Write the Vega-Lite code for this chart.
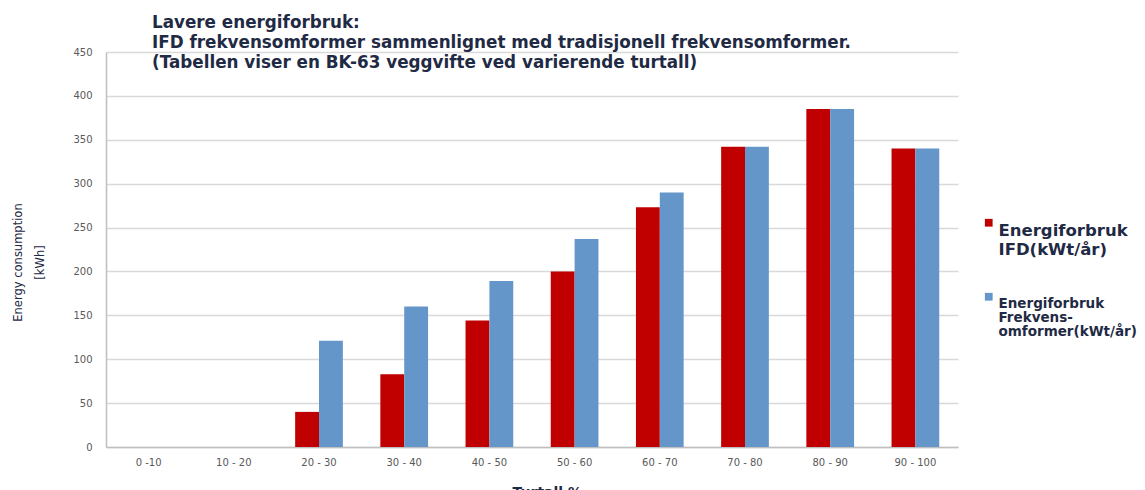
{
  "$schema": "https://vega.github.io/schema/vega-lite/v6.json",
  "width": 852,
  "height": 395,
  "autosize": {"type": "none"},
  "padding": {"left": 106, "top": 52, "right": 187, "bottom": 43},
  "background": "white",
  "config": {"view": {"stroke": null}},
  "title": {
    "text": ["Lavere energiforbruk:", " IFD frekvensomformer sammenlignet med tradisjonell frekvensomformer.", "(Tabellen viser en BK-63 veggvifte ved varierende turtall)"],
    "anchor": "start",
    "frame": "group",
    "dx": 46,
    "offset": -25,
    "font": "DejaVu Sans",
    "fontSize": 16.8,
    "fontWeight": "bold",
    "color": "#1F2A44",
    "lineHeight": 20
  },
  "data": {
    "values": [
      {"turtall": "20 - 30", "serie": "IFD", "verdi": 40},
      {"turtall": "20 - 30", "serie": "Frekvens", "verdi": 121},
      {"turtall": "30 - 40", "serie": "IFD", "verdi": 83},
      {"turtall": "30 - 40", "serie": "Frekvens", "verdi": 160},
      {"turtall": "40 - 50", "serie": "IFD", "verdi": 144},
      {"turtall": "40 - 50", "serie": "Frekvens", "verdi": 189},
      {"turtall": "50 - 60", "serie": "IFD", "verdi": 200},
      {"turtall": "50 - 60", "serie": "Frekvens", "verdi": 237},
      {"turtall": "60 - 70", "serie": "IFD", "verdi": 273},
      {"turtall": "60 - 70", "serie": "Frekvens", "verdi": 290},
      {"turtall": "70 - 80", "serie": "IFD", "verdi": 342},
      {"turtall": "70 - 80", "serie": "Frekvens", "verdi": 342},
      {"turtall": "80 - 90", "serie": "IFD", "verdi": 385},
      {"turtall": "80 - 90", "serie": "Frekvens", "verdi": 385},
      {"turtall": "90 - 100", "serie": "IFD", "verdi": 340},
      {"turtall": "90 - 100", "serie": "Frekvens", "verdi": 340}
    ]
  },
  "mark": {"type": "bar"},
  "encoding": {
    "x": {
      "field": "turtall",
      "type": "nominal",
      "scale": {
        "domain": ["0 -10", "10 - 20", "20 - 30", "30 - 40", "40 - 50", "50 - 60", "60 - 70", "70 - 80", "80 - 90", "90 - 100"],
        "paddingInner": 0.44,
        "paddingOuter": 0.22
      },
      "axis": {
        "title": "Turtall %",
        "labelAngle": 0,
        "ticks": false,
        "domainColor": "#BFBFBF",
        "domainWidth": 1.5,
        "labelFont": "DejaVu Sans",
        "labelFontSize": 10,
        "labelColor": "#595959",
        "labelPadding": 10,
        "titleFont": "DejaVu Sans",
        "titleFontSize": 14,
        "titleFontWeight": "bold",
        "titleColor": "#1F2A44",
        "titleAlign": "left",
        "titleBaseline": "top",
        "titleX": 406,
        "titleY": 38
      }
    },
    "xOffset": {
      "field": "serie",
      "type": "nominal",
      "scale": {"domain": ["IFD", "Frekvens"]}
    },
    "y": {
      "field": "verdi",
      "type": "quantitative",
      "scale": {"domain": [0, 450]},
      "axis": {
        "title": ["Energy consumption", "[kWh]"],
        "values": [0, 50, 100, 150, 200, 250, 300, 350, 400, 450],
        "ticks": false,
        "domainColor": "#BFBFBF",
        "domainWidth": 1.5,
        "gridColor": "#D9D9D9",
        "gridWidth": 1.5,
        "labelFont": "DejaVu Sans",
        "labelFontSize": 10,
        "labelColor": "#595959",
        "labelPadding": 14,
        "titleFont": "DejaVu Sans",
        "titleFontSize": 11.5,
        "titleFontWeight": "normal",
        "titleColor": "#1F2A44",
        "titleAngle": -90,
        "titleAlign": "center",
        "titleBaseline": "top",
        "titleLineHeight": 22,
        "titleX": -94,
        "titleY": 210
      }
    },
    "color": {
      "field": "serie",
      "type": "nominal",
      "scale": {"domain": ["IFD", "Frekvens"], "range": ["#C00000", "#6596CA"]},
      "legend": {
        "title": null,
        "orient": "none",
        "legendX": 876,
        "legendY": 164,
        "symbolType": "square",
        "symbolSize": 60,
        "symbolStrokeWidth": 0,
        "labelFont": "DejaVu Sans",
        "labelFontWeight": "bold",
        "labelColor": "#1F2A44",
        "labelLimit": 400,
        "labelBaseline": "top",
        "labelOffset": 3,
        "rowPadding": 31,
        "labelExpr": "datum.value == 'IFD' ? ['Energiforbruk', 'IFD(kWt/år)'] : ['Energiforbruk', 'Frekvens-', 'omformer(kWt/år)']",
        "encode": {
          "labels": {
            "update": {
              "fontSize": {"signal": "datum.value == 'IFD' ? 16.5 : 13.5"},
              "lineHeight": {"signal": "datum.value == 'IFD' ? 19 : 14"}
            }
          }
        }
      }
    }
  }
}
